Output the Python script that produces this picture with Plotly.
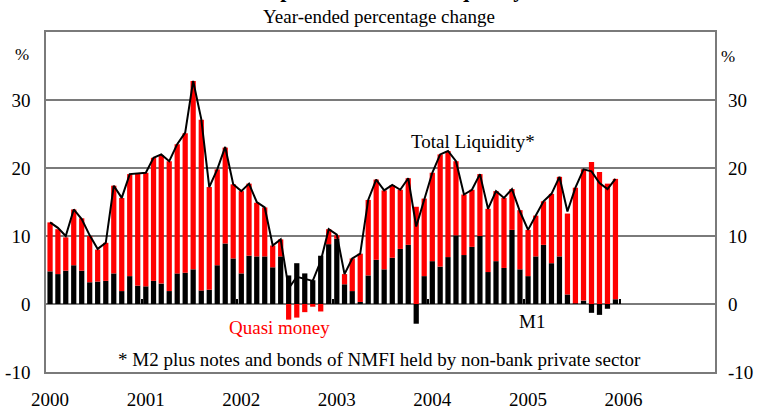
import pandas as pd
import plotly.graph_objects as go

# monthly, Jan 2000 - Dec 2005, year-ended % change

months = pd.date_range("2000-01-01", periods=72, freq="MS")

m1 = [
    4.8, 4.4, 4.9, 5.7, 4.9, 3.2, 3.3, 3.4, 4.5, 1.9, 4.1, 2.7,
    2.6, 3.4, 3.0, 1.9, 4.5, 4.6, 5.1, 2.0, 2.1, 5.7, 8.9, 6.7,
    4.5, 7.1, 7.0, 7.0, 5.4, 7.0, 4.2, 6.0, 4.5, 3.5, 7.1, 8.8,
    9.6, 2.9, 1.9, 0.3, 4.2, 6.5, 5.1, 6.8, 8.1, 8.7, -2.9, 4.1,
    6.3, 5.5, 6.9, 10.1, 7.2, 8.4, 10.0, 4.7, 6.3, 5.3, 10.9, 5.1,
    4.1, 7.0, 8.7, 6.0, 7.0, 1.4, 0.1, 0.5, -1.3, -1.6, -0.7, 0.7,
]

quasi_money = [
    7.2, 6.6, 4.9, 8.2, 7.7, 6.8, 4.7, 5.6, 12.9, 13.7, 15.0, 16.5,
    16.7, 18.1, 18.9, 19.1, 19.0, 20.5, 27.7, 25.1, 15.1, 14.1, 14.1, 10.9,
    12.1, 10.6, 7.9, 7.2, 3.2, 2.5, -2.3, -2.0, -1.2, -0.4, -1.1, 2.2,
    0.5, 1.5, 4.8, 7.1, 11.1, 11.8, 11.6, 10.7, 8.7, 9.8, 14.3, 11.4,
    13.0, 16.5, 15.6, 10.9, 8.9, 8.4, 9.1, 9.3, 10.3, 10.3, 6.0, 8.7,
    6.8, 6.0, 6.4, 10.2, 11.7, 11.9, 17.0, 19.3, 20.9, 19.4, 17.7, 17.7,
]

total_liquidity = [
    12.0, 11.2, 10.0, 13.9, 12.5, 10.1, 8.1, 9.0, 17.4, 15.6, 19.1, 19.2,
    19.3, 21.5, 22.0, 21.0, 23.5, 25.2, 32.8, 27.2, 17.2, 19.8, 23.1, 17.6,
    16.6, 17.7, 15.0, 14.2, 8.6, 9.5, 2.3, 4.0, 3.7, 3.4, 6.3, 11.0,
    10.2, 4.4, 6.7, 7.4, 15.3, 18.3, 16.7, 17.5, 16.8, 18.5, 11.4, 15.4,
    19.3, 22.0, 22.5, 21.0, 16.1, 16.8, 19.1, 14.0, 16.6, 15.6, 16.9, 13.6,
    10.9, 13.0, 15.1, 16.2, 18.7, 13.6, 17.1, 19.8, 19.5, 17.8, 16.9, 18.4,
]

years = ["2000", "2001", "2002", "2003", "2004", "2005", "2006"]
y_ticks = [-10, 0, 10, 20, 30]
y_labels = ["-10", "0", "10", "20", "30"]

FONT = "Liberation Serif, Times New Roman, serif"
GRID = "#7a7a7a"

fig = go.Figure()

fig.add_trace(
    go.Bar(
        x=months, y=m1, name="M1", marker=dict(color="black", line=dict(width=0)),
        xperiod="M1", xperiodalignment="middle",
    )
)
fig.add_trace(
    go.Bar(
        x=months, y=quasi_money, name="Quasi money", marker=dict(color="#ff0000", line=dict(width=0)),
        xperiod="M1", xperiodalignment="middle",
    )
)
fig.add_trace(
    go.Scatter(
        x=months, y=total_liquidity, mode="lines", name="Total Liquidity",
        line=dict(color="black", width=2),
        xperiod="M1", xperiodalignment="middle",
    )
)

# year labels sit under the January bars
label_pos = [f"{y}-01-16" for y in years]

fig.update_layout(
    width=757,
    height=412,
    margin=dict(l=46, r=42, t=32, b=40, autoexpand=False),
    paper_bgcolor="white",
    plot_bgcolor="white",
    barmode="relative",
    bargap=0.32,
    showlegend=False,
    font=dict(family=FONT, size=19, color="black"),
    xaxis=dict(
        type="date",
        range=["2000-01-01", "2007-01-01"],
        tickvals=label_pos,
        ticktext=years,
        ticks="",
        showgrid=False,
        showline=True,
        mirror=True,
        linecolor=GRID,
        linewidth=1.5,
        automargin=False,
        ticklabelstandoff=9,
    ),
    # small year ticks on the zero line
    xaxis2=dict(
        type="date",
        overlaying="x",
        matches="x",
        anchor="free",
        position=0.2,
        range=["2000-01-01", "2007-01-01"],
        tick0="2000-01-01",
        dtick="M12",
        ticks="inside",
        ticklen=5,
        tickwidth=1.5,
        tickcolor="black",
        showticklabels=False,
        showline=False,
        showgrid=False,
        automargin=False,
    ),
    yaxis=dict(
        range=[-10, 40],
        tickvals=y_ticks,
        ticktext=y_labels,
        showgrid=True,
        gridcolor=GRID,
        gridwidth=1.5,
        zeroline=False,
        showline=True,
        mirror=True,
        linecolor=GRID,
        linewidth=1.5,
        ticks="",
        ticklabelstandoff=10,
        automargin=False,
    ),
    yaxis2=dict(
        range=[-10, 40],
        tickvals=y_ticks,
        ticktext=y_labels,
        overlaying="y",
        side="right",
        showgrid=False,
        zeroline=False,
        ticks="",
        ticklabelstandoff=12,
        automargin=False,
    ),
)

# invisible trace so the right axis and zero-line ticks are drawn
fig.add_trace(go.Scatter(x=[months[0]], y=[0], yaxis="y2", xaxis="x2", mode="markers",
                         marker=dict(opacity=0), hoverinfo="skip"))

notes = [
    dict(x="2004-06-20", y=23.9, text="Total Liquidity*", font=dict(color="black")),
    dict(x="2002-06-10", y=-3.4, text="Quasi money", font=dict(color="#ff0000")),
    dict(x="2005-02-01", y=-2.6, text="M1", font=dict(color="black")),
    dict(x="2003-06-28", y=-8.1, text="* M2 plus notes and bonds of NMFI held by non-bank private sector",
         font=dict(color="black")),
]
for n in notes:
    fig.add_annotation(xref="x", yref="y", showarrow=False, xanchor="center", yanchor="middle", **n)

paper_notes = [
    dict(x=0.498, y=1.047, text="Year-ended percentage change", font=dict(size=19)),
    # title: clipped at the top edge, as in the source
    dict(x=0.498, y=1.124, text="<b>Components of Total Liquidity</b>", font=dict(size=22)),
    dict(x=-0.036, y=0.935, text="%", font=dict(size=17)),
    dict(x=1.02, y=0.929, text="%", font=dict(size=17)),
]
for n in paper_notes:
    fig.add_annotation(xref="paper", yref="paper", showarrow=False, xanchor="center", yanchor="middle", **n)

fig.write_html(
    "out.html",
    config={"displayModeBar": False},
    post_script="document.body.style.margin='0';",
)
